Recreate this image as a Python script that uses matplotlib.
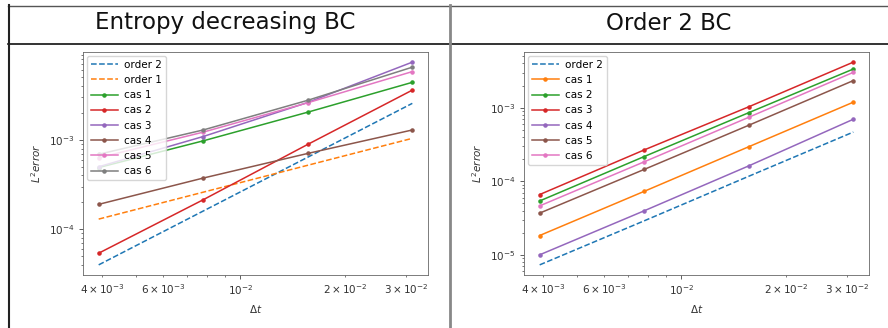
import matplotlib
matplotlib.use("Agg")
import matplotlib.pyplot as plt
from matplotlib.lines import Line2D

# ---- data ----
dt = [0.00390625, 0.0078125, 0.015625, 0.03125]

left_title = "Entropy decreasing BC"
left_order2 = [4.0e-5, 1.6e-4, 6.4e-4, 2.56e-3]
left_order1 = [1.3e-4, 2.6e-4, 5.2e-4, 1.04e-3]
left_cas1 = [4.9e-4, 9.75e-4, 2.04e-3, 4.4e-3]
left_cas2 = [5.4e-5, 2.14e-4, 8.9e-4, 3.6e-3]
left_cas3 = [5.0e-4, 1.09e-3, 2.62e-3, 7.4e-3]
left_cas4 = [1.9e-4, 3.74e-4, 7.05e-4, 1.29e-3]
left_cas5 = [6.3e-4, 1.22e-3, 2.6e-3, 5.8e-3]
left_cas6 = [6.9e-4, 1.29e-3, 2.77e-3, 6.5e-3]

right_title = "Order 2 BC"
right_order2 = [7.3e-6, 2.9e-5, 1.17e-4, 4.67e-4]
right_cas1 = [1.83e-5, 7.3e-5, 2.95e-4, 1.19e-3]
right_cas2 = [5.4e-5, 2.17e-4, 8.57e-4, 3.36e-3]
right_cas3 = [6.6e-5, 2.67e-4, 1.03e-3, 4.17e-3]
right_cas4 = [1.0e-5, 3.97e-5, 1.62e-4, 6.97e-4]
right_cas5 = [3.69e-5, 1.45e-4, 5.78e-4, 2.34e-3]
right_cas6 = [4.63e-5, 1.84e-4, 7.42e-4, 3.03e-3]

cas_labels = ["cas 1", "cas 2", "cas 3", "cas 4", "cas 5", "cas 6"]

FS = 7.5
LW = 1.1
MS = 4.5

W, H = 888, 328
fig = plt.figure(figsize=(W / 100, H / 100), dpi=100)


def style(ax):
    ax.set_xscale("log")
    ax.set_yscale("log")
    ax.tick_params(which="both", labelsize=FS, labelcolor="#333333")
    ax.tick_params(which="major", length=2.6, width=0.6, color="#444444")
    ax.tick_params(which="minor", length=1.5, width=0.5, color="#444444")
    for s in ax.spines.values():
        s.set_color("#666666")
        s.set_linewidth(0.6)
    ax.set_xlabel(r"$\Delta t$", fontsize=FS, color="#333333")
    ax.set_ylabel(r"$L^2 error$", fontsize=FS, color="#333333")


def legend(ax):
    ax.legend(loc="upper left", fontsize=FS, handlelength=2.6, borderpad=0.4,
              labelspacing=0.5, handletextpad=0.6, borderaxespad=0.35)


# left axes
axL = fig.add_axes([83 / W, 1 - 275 / H, 345 / W, 223 / H])
axL.plot(dt, left_order2, "--", color="C0", lw=LW, label="order 2")
axL.plot(dt, left_order1, "--", color="C1", lw=LW, label="order 1")
for i, ys in enumerate([left_cas1, left_cas2, left_cas3, left_cas4, left_cas5, left_cas6]):
    axL.plot(dt, ys, ".-", color=f"C{i + 2}", lw=LW, ms=MS, label=cas_labels[i])
style(axL)
legend(axL)

# right axes
axR = fig.add_axes([524 / W, 1 - 275 / H, 345 / W, 223 / H])
axR.plot(dt, right_order2, "--", color="C0", lw=LW, label="order 2")
for i, ys in enumerate([right_cas1, right_cas2, right_cas3, right_cas4, right_cas5, right_cas6]):
    axR.plot(dt, ys, ".-", color=f"C{i + 1}", lw=LW, ms=MS, label=cas_labels[i])
style(axR)
legend(axR)


# table frame
def hline(y, x0, x1, color, lw):
    fig.add_artist(Line2D([x0 / W, x1 / W], [1 - y / H, 1 - y / H],
                          transform=fig.transFigure, color=color, lw=lw))


def vline(x, y0, y1, color, lw):
    fig.add_artist(Line2D([x / W, x / W], [1 - y0 / H, 1 - y1 / H],
                          transform=fig.transFigure, color=color, lw=lw))


hline(5.5, 8, W, "#555555", 1.0)
hline(43.5, 8, W, "#111111", 1.2)
vline(8.5, 5, H, "#222222", 1.5)
vline(450, 5, H, "#888888", 2.0)

fig.text((8 + 450) / 2 / W - 0.004, 1 - 23 / H, left_title, ha="center", va="center",
         fontsize=16.5, color="#111111")
fig.text((450 + W) / 2 / W, 1 - 23 / H, right_title, ha="center", va="center",
         fontsize=16.5, color="#111111")

fig.savefig("out.png", dpi=100)
